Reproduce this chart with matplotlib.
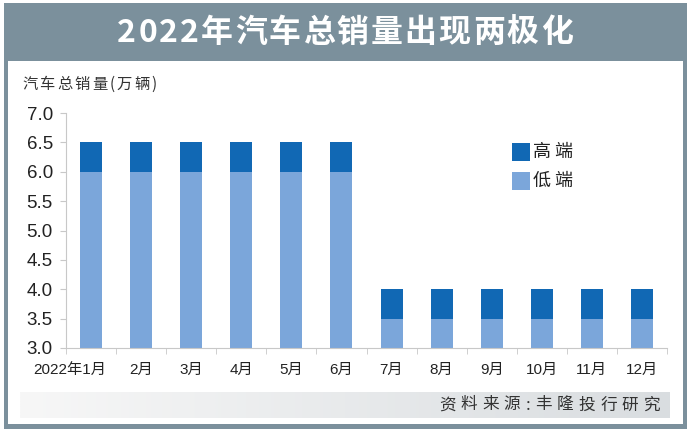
import numpy as np
import matplotlib
matplotlib.use('Agg')
import matplotlib.pyplot as plt
from matplotlib.patches import Rectangle
from matplotlib.colors import LinearSegmentedColormap

plt.rcParams['font.family'] = ['Liberation Sans', 'Noto Sans CJK SC', 'DejaVu Sans']
CJK = ['Noto Sans CJK SC', 'DejaVu Sans']

months = ['2022年1月', '2月', '3月', '4月', '5月', '6月',
          '7月', '8月', '9月', '10月', '11月', '12月']
low_end = [6.0, 6.0, 6.0, 6.0, 6.0, 6.0, 3.5, 3.5, 3.5, 3.5, 3.5, 3.5]
high_end = [0.5, 0.5, 0.5, 0.5, 0.5, 0.5, 0.5, 0.5, 0.5, 0.5, 0.5, 0.5]
yticks = [3.0, 3.5, 4.0, 4.5, 5.0, 5.5, 6.0, 6.5, 7.0]

title = '2022年汽车总销量出现两极化'
ylabel = '汽车总销量(万辆)'
source = '资料来源:丰隆投行研究'
legend_labels = ['高端', '低端']

c_high = '#1168b4'
c_low = '#7ba6da'
frame = '#7b909c'

fig = plt.figure(figsize=(6.9, 4.32), dpi=100)
renderer = fig.canvas.get_renderer()


def spaced(ax, x, y, s, gap, ha='left', **kw):
    # draw a string char by char with extra letter spacing (pixel coords)
    widths = []
    for ch in s:
        t = ax.text(0, 0, ch, **kw)
        widths.append(t.get_window_extent(renderer).width)
        t.remove()
    total = sum(widths) + gap * (len(s) - 1)
    if ha == 'right':
        x = x - total
    elif ha == 'center':
        x = x - total / 2
    for ch, w in zip(s, widths):
        ax.text(x, y, ch, ha='left', va='center', **kw)
        x += w + gap


# background frame in pixel coordinates
bg = fig.add_axes([0, 0, 1, 1], zorder=0)
bg.set_xlim(0, 690)
bg.set_ylim(432, 0)
bg.axis('off')
bg.add_patch(Rectangle((4, 3), 683, 426, facecolor=frame, edgecolor='none'))
bg.add_patch(Rectangle((8, 61), 675, 363, facecolor='white', edgecolor='none'))
spaced(bg, 345, 33, title, 2, ha='center', color='white', fontsize=23,
       fontweight='bold', family=CJK)
spaced(bg, 22, 84, ylabel, 2.2, color='#333333', fontsize=11, family=CJK)

grad = LinearSegmentedColormap.from_list('band', ['#f7f7f7', '#d9dde0'])
bg.imshow(np.linspace(0, 1, 256).reshape(1, -1), cmap=grad, aspect='auto',
          extent=[20, 670, 418, 392], zorder=1)
spaced(bg, 660, 405, source, 5, ha='right', color='#333333', fontsize=12,
       family=CJK, zorder=2)

ax = fig.add_axes([66 / 690, 1 - 348 / 432, 601 / 690, 235 / 432], zorder=2)
ax.patch.set_alpha(0)
x = np.arange(len(months))
ax.bar(x, low_end, width=0.44, color=c_low)
ax.bar(x, high_end, width=0.44, bottom=low_end, color=c_high)

ax.set_ylim(3.0, 7.0)
ax.set_xlim(-0.5, len(months) - 0.5)
ax.set_yticks(yticks)
ax.set_yticklabels(['%.1f' % v for v in yticks])
ax.set_xticks(x)
ax.set_xticklabels([''] + months[1:])
# first label sits right-aligned, shifted right of its bar
ax.annotate(months[0], xy=(0, 0), xycoords=ax.get_xaxis_transform(),
            xytext=(11, -11), textcoords='offset points', ha='right', va='top',
            fontsize=11, color='#222222')
ax.set_xticks(np.arange(len(months) + 1) - 0.5, minor=True)

for s in ['top', 'right']:
    ax.spines[s].set_visible(False)
for s in ['left', 'bottom']:
    ax.spines[s].set_color('#c8c8c8')
    ax.spines[s].set_linewidth(0.8)
ax.tick_params(axis='y', length=4.5, color='#c8c8c8', labelsize=13.5, pad=5,
               labelcolor='#222222')
ax.tick_params(axis='x', which='major', length=0, labelsize=11, pad=11,
               labelcolor='#222222')
ax.tick_params(axis='x', which='minor', length=4, color='#c8c8c8')

# legend drawn as squares + spaced labels
for i, (lab, col) in enumerate(zip(legend_labels, [c_high, c_low])):
    yc = 152 + i * 29
    bg.add_patch(Rectangle((512, yc - 9), 18, 18, facecolor=col, edgecolor='none', zorder=3))
    spaced(bg, 533, yc, lab, 3, color='#222222', fontsize=13, family=CJK, zorder=3)

fig.savefig('out.png', dpi=100)
